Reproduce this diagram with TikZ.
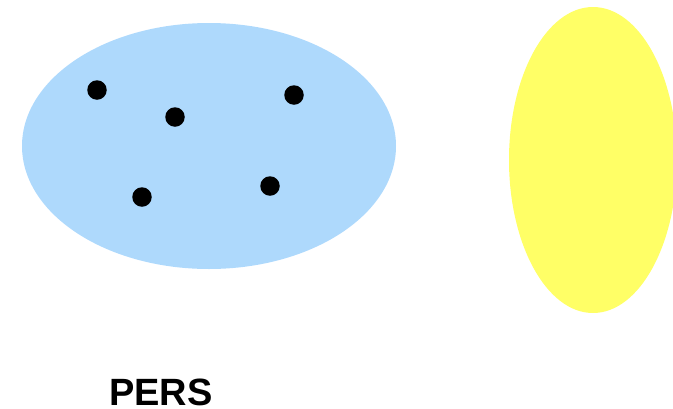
\documentclass[tikz,border=0pt]{standalone}
\usepackage{fontspec}
\setmainfont{Liberation Sans}
\definecolor{setblue}{RGB}{174,217,252}
\definecolor{setyellow}{RGB}{255,255,102}
\begin{document}
\begin{tikzpicture}[x=1pt,y=-1pt,
  elem/.style={circle,fill=black,inner sep=0pt,minimum size=19.5pt}]
\clip (0,0) rectangle (673,408);
\useasboundingbox (0,0) rectangle (673,408);
\fill[setblue] (209,146) ellipse [x radius=187, y radius=123];
\fill[setyellow] (593,160) ellipse [x radius=84, y radius=153];
\node[elem] (d1) at (97,90) {};
\node[elem] (d2) at (175,117) {};
\node[elem] (d3) at (294,95) {};
\node[elem] (d4) at (142,197) {};
\node[elem] (d5) at (270,186) {};
\node[anchor=base,inner sep=0pt,font=\fontsize{38}{40}\selectfont\bfseries] (lbl) at (161,405) {PERS};
\end{tikzpicture}
\end{document}
